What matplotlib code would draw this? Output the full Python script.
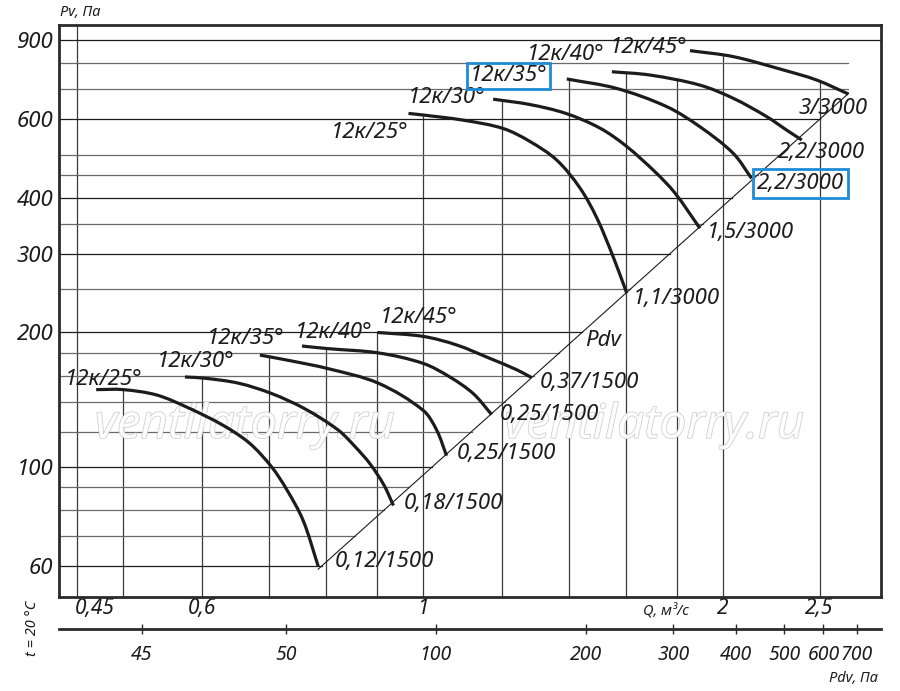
import numpy as np
import matplotlib
matplotlib.use("Agg")
import matplotlib.pyplot as plt
import matplotlib.patheffects as pe
import matplotlib.transforms as mtransforms
from matplotlib.path import Path
from matplotlib.patches import PathPatch
from matplotlib.ticker import NullLocator

plt.rcParams["font.family"] = ["Noto Sans", "DejaVu Sans"]
plt.rcParams["font.style"] = "italic"

# Q, м3/с и Pv, Па (1500 об/мин)
q_low_25 = [0.47, 0.50, 0.54, 0.58, 0.63, 0.67, 0.705, 0.73, 0.758, 0.785]
p_low_25 = [149, 149, 145, 136, 124, 113, 100, 89, 76, 60]
q_low_30 = [0.577, 0.604, 0.653, 0.705, 0.761, 0.822, 0.855, 0.885, 0.914, 0.934]
p_low_30 = [159, 158, 154, 146, 135, 121, 111, 101.6, 91, 82]
q_low_35 = [0.686, 0.735, 0.803, 0.902, 1.0, 1.032, 1.056]
p_low_35 = [178, 173, 166, 154, 134, 121, 106]
q_low_40 = [0.756, 0.803, 0.902, 1.0, 1.064, 1.123, 1.172]
p_low_40 = [186.5, 184, 180, 170.6, 159, 146, 131]
q_low_45 = [0.90, 1.0, 1.081, 1.167, 1.242, 1.285]
p_low_45 = [200, 196, 187.5, 175, 165, 158.5]

# 3000 об/мин
q_up_25 = [0.967, 1.0, 1.097, 1.203, 1.28, 1.362, 1.437, 1.494, 1.552, 1.601]
p_up_25 = [618, 613, 597, 572, 535, 486, 421, 361, 295, 245]
q_up_30 = [1.176, 1.28, 1.391, 1.505, 1.598, 1.71, 1.79, 1.896]
p_up_30 = [665, 647, 618, 573, 523, 457, 410, 342]
q_up_35 = [1.394, 1.564, 1.756, 1.896, 2.048, 2.137]
p_up_35 = [738, 703, 640, 577, 503, 442]
q_up_40 = [1.547, 1.69, 1.896, 2.048, 2.212, 2.317, 2.399]
p_up_40 = [766, 753, 715, 668, 608, 567, 539]
q_up_45 = [1.853, 2.048, 2.299, 2.483, 2.672]
p_up_45 = [854, 828, 773, 734, 683]

curve_names = ["12к/25°", "12к/30°", "12к/35°", "12к/40°", "12к/45°"] * 2
motor_names = ["0,12/1500", "0,18/1500", "0,25/1500", "0,25/1500", "0,37/1500",
               "1,1/3000", "1,5/3000", "2,2/3000", "2,2/3000", "3/3000"]

# линия динамического давления Pdv = k*Q^2
k_pdv = 95.9
q_pdv = [0.785, 2.672]

y_grid = [60, 70, 80, 90, 100, 120, 140, 160, 180, 200, 250, 300, 350,
          400, 450, 500, 600, 700, 800, 900]
y_ticks = [60, 100, 200, 300, 400, 600, 900]
x_grid = [0.45, 0.5, 0.6, 0.7, 0.8, 0.9, 1, 1.2, 1.4, 1.6, 1.8, 2, 2.5]
x_ticks = [0.45, 0.6, 1, 2, 2.5]
x_labels = ["0,45", "0,6", "1", "2", "2,5"]
pdv_k_axis = 94.3
pdv_ticks = [25.7, 50, 100, 200, 300, 400, 500, 600, 700]
pdv_labels = ["45", "50", "100", "200", "300", "400", "500", "600", "700"]

curves = [(q_low_25, p_low_25), (q_low_30, p_low_30), (q_low_35, p_low_35),
          (q_low_40, p_low_40), (q_low_45, p_low_45),
          (q_up_25, p_up_25), (q_up_30, p_up_30), (q_up_35, p_up_35),
          (q_up_40, p_up_40), (q_up_45, p_up_45)]

# смещения подписей в пикселях (dx, dy)
name_off = [(-31, 10), (-28, 15), (-53, 17), (-7, 14), (2, 15),
            (-78, -19), (-85, 2), (-97, 3), (-85, 17), (-80, 3)]
motor_off = [(17, 5), (10, 2), (10, 2), (8, 0), (8, -5),
             (6, -5), (7, -4), (5, -5), (-24, -13), (-50, -14)]
boxed_name = 7
boxed_motor = 7

FS = 16
INK = "#1c1c1c"
BLUE = "#1E8BD6"

fig = plt.figure(figsize=(9, 6.91), dpi=100)
ax = fig.add_axes([59 / 900, 1 - 597 / 691, 822 / 900, 572 / 691])
ax.set_xscale("log")
ax.set_yscale("log")
xmin, xmax = 0.4313, 2.881
ymin, ymax = 51.2, 974.5
ax.set_xlim(xmin, xmax)
ax.set_ylim(ymin, ymax)


def env_top(q):
    tops = []
    for qs, ps in curves:
        if qs[0] <= q <= qs[-1]:
            tops.append(10 ** np.interp(np.log10(q), np.log10(qs), np.log10(ps)))
    return max(tops) if tops else ymax


def smooth_path(qs, ps):
    # плавная кривая Безье через точки (в экранных координатах)
    pts = ax.transData.transform(np.column_stack([qs, ps]))
    n = len(pts)
    tang = np.zeros_like(pts)
    for i in range(n):
        a = pts[max(i - 1, 0)]
        b = pts[min(i + 1, n - 1)]
        d = b - a
        tang[i] = d / np.hypot(*d)
    verts = [pts[0]]
    codes = [Path.MOVETO]
    for i in range(n - 1):
        L = np.hypot(*(pts[i + 1] - pts[i]))
        verts += [pts[i] + tang[i] * L / 3, pts[i + 1] - tang[i + 1] * L / 3, pts[i + 1]]
        codes += [Path.CURVE4] * 3
    verts = ax.transData.inverted().transform(np.array(verts))
    return Path(verts, codes)


# вертикальная сетка - до верхней кривой
for q in x_grid:
    ax.plot([q, q], [ymin, env_top(q)], color="#3a3a3a", lw=0.9, zorder=1)

# горизонтальная сетка - до линии Pdv
for p in y_grid:
    if p == y_grid[-1]:
        end = xmax
    else:
        end = min(np.sqrt(p / k_pdv), q_pdv[1])
    col = "#1c1c1c" if p in y_ticks else "#6a6a6a"
    ax.plot([xmin, end], [p, p], color=col, lw=0.9, zorder=1)

# водяной знак
for xf in (0.226, 0.724):
    ax.text(xf, 0.30, "ventilatorry.ru", transform=ax.transAxes, fontsize=34,
            ha="center", va="center", color="white", alpha=0.85, zorder=2,
            path_effects=[pe.withStroke(linewidth=1.0, foreground="#c4c4c4")])

qd = np.array(q_pdv)
ax.plot(qd, k_pdv * qd ** 2, color=INK, lw=0.8, zorder=3)
ax.annotate("Pdv", xy=(1.40, k_pdv * 1.40 ** 2), xytext=(16 * 0.72, 4 * 0.72),
            textcoords="offset points", ha="left", va="center", fontsize=FS, color=INK)

for i, (qs, ps) in enumerate(curves):
    ax.add_patch(PathPatch(smooth_path(qs, ps), fill=False, ec=INK, lw=2.3,
                           capstyle="butt", zorder=4))
    dx, dy = name_off[i]
    bb = None
    if i == boxed_name:
        bb = dict(boxstyle="square,pad=0.12", fc="none", ec=BLUE, lw=2)
    ax.annotate(curve_names[i], xy=(qs[0], ps[0]), xytext=(dx * 0.72, dy * 0.72),
                textcoords="offset points", ha="left", va="center",
                fontsize=FS, color=INK, bbox=bb, zorder=5)
    dx, dy = motor_off[i]
    bb = None
    if i == boxed_motor:
        bb = dict(boxstyle="square,pad=0.18", fc="none", ec=BLUE, lw=2)
    ax.annotate(motor_names[i], xy=(qs[-1], ps[-1]), xytext=(dx * 0.72, dy * 0.72),
                textcoords="offset points", ha="left", va="center",
                fontsize=FS, color=INK, bbox=bb, zorder=5)

# оси
for s in ax.spines.values():
    s.set_linewidth(2)
    s.set_color("#2a2a2a")
ax.set_yticks(y_ticks)
ax.set_yticklabels([str(v) for v in y_ticks])
ax.yaxis.set_minor_locator(NullLocator())
ax.set_xticks(x_ticks)
ax.set_xticklabels(x_labels)
ax.xaxis.set_minor_locator(NullLocator())
ax.tick_params(axis="y", length=0, pad=4, labelsize=16, labelcolor=INK)
ax.tick_params(axis="x", length=0, pad=1, labelsize=15, labelcolor=INK)
lab0 = ax.get_xticklabels()[0]
lab0.set_transform(lab0.get_transform() +
                   mtransforms.ScaledTranslation(0.17, 0, fig.dpi_scale_trans))

sec = ax.secondary_xaxis(-32 / 572, functions=(lambda q: pdv_k_axis * q ** 2,
                                               lambda p: np.sqrt(np.maximum(p, 1e-9) / pdv_k_axis)))
sec.set_xticks(pdv_ticks)
sec.set_xticklabels(pdv_labels)
sec.xaxis.set_minor_locator(NullLocator())
sec.spines["bottom"].set_linewidth(2)
sec.spines["bottom"].set_color("#2a2a2a")
sec.tick_params(axis="x", direction="inout", length=7, width=1, pad=8,
                labelsize=14, labelcolor=INK, color="#2a2a2a")

fig.text(60 / 900, 1 - 13 / 691, "Pv, Па", fontsize=10.5, color=INK, ha="left", va="center")
fig.text(666 / 900, 1 - 612 / 691, "Q, м³/с", fontsize=10.5, color=INK, ha="center", va="center")
fig.text(878 / 900, 1 - 678 / 691, "Pdv, Па", fontsize=10.5, color=INK, ha="right", va="center")
fig.text(33 / 900, 1 - 628 / 691, "t = 20 °C", fontsize=10.5, color=INK, rotation=90,
         ha="center", va="center")

fig.savefig("out.png", dpi=100)
